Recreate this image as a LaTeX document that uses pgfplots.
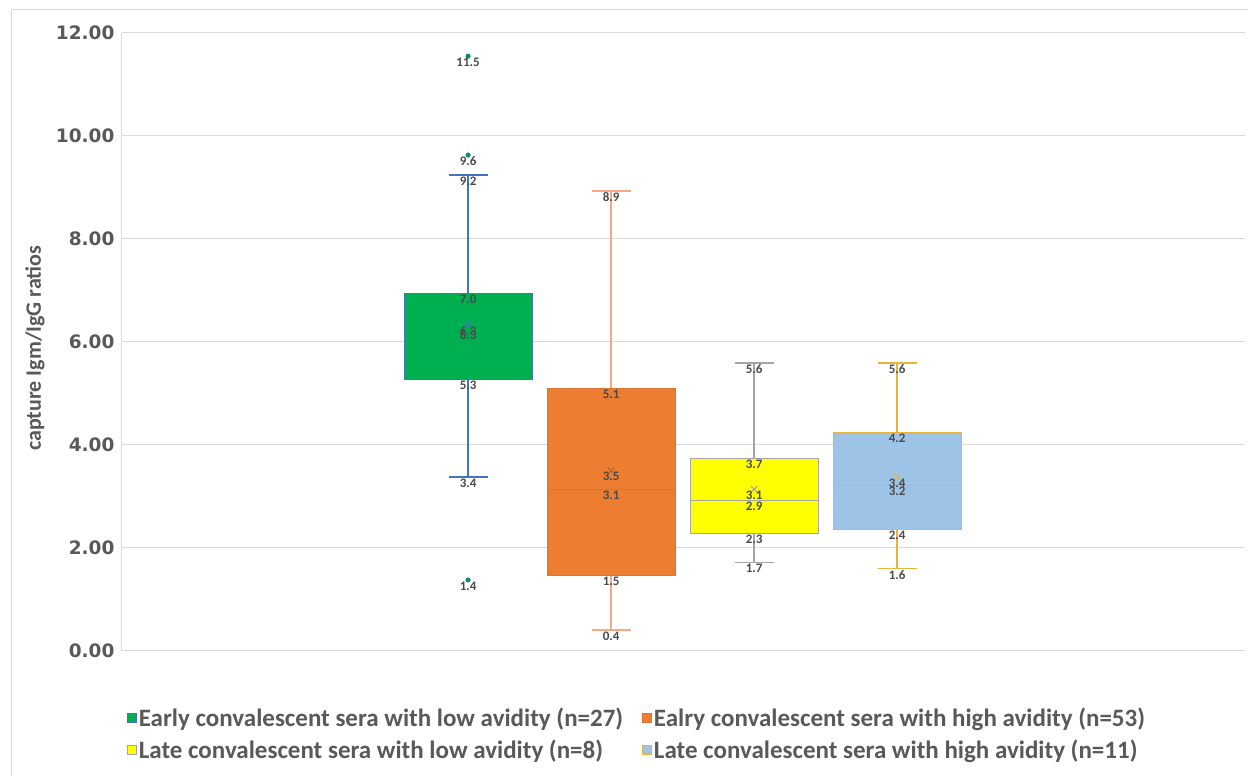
\documentclass[border=0pt]{standalone}
\usepackage{fontspec}
\setmainfont{Carlito}
\newfontfamily\tickfont{DejaVu Sans}
\usepackage{pgfplots}
\usepackage{pgfplotstable}
\pgfplotsset{compat=1.18}
\usepgfplotslibrary{statistics}
\definecolor{cGreen}{HTML}{00B050}
\definecolor{cBlueEdge}{HTML}{4472C4}
\definecolor{cOrange}{HTML}{ED7D31}
\definecolor{cOrangeEdge}{HTML}{DD7330}
\definecolor{cOrangeLight}{HTML}{F2AA85}
\definecolor{cYellow}{HTML}{FFFF00}
\definecolor{cGray}{HTML}{A5A5A5}
\definecolor{cLBlue}{HTML}{9DC3E6}
\definecolor{cGold}{HTML}{E8B43A}
\definecolor{cTeal}{HTML}{17876A}
\definecolor{txt}{HTML}{595959}
\definecolor{lbl}{HTML}{4A4A4A}
\definecolor{grid}{HTML}{D9D9D9}

\pgfplotstableread{
x y label
2.42 11.55 11.5
2.42 9.63 9.6
2.42 9.24 9.2
2.42 6.95 7.0
2.42 6.33 6.3
2.42 6.25 6.3
2.42 5.28 5.3
2.42 3.38 3.4
2.42 1.38 1.4
3.42 8.93 8.9
3.42 5.10 5.1
3.42 3.50 3.5
3.42 3.14 3.1
3.42 1.46 1.5
3.42 0.41 0.4
4.42 5.59 5.6
4.42 3.74 3.7
4.42 3.14 3.1
4.42 2.93 2.9
4.42 2.29 2.3
4.42 1.72 1.7
5.42 5.59 5.6
5.42 4.24 4.2
5.42 3.38 3.4
5.42 3.22 3.2
5.42 2.36 2.4
5.42 1.60 1.6
}\labels

\begin{document}
\begin{tikzpicture}
\useasboundingbox (0,0) rectangle (1248pt,776pt);
\fill[white] (0,0) rectangle (1248pt,776pt);
\draw[grid, line width=1pt] (11pt,0) -- (11pt,766pt) -- (1248pt,766pt);
\begin{axis}[
  at={(122pt,125pt)}, anchor=south west,
  scale only axis, width=1123pt, height=618pt,
  xmin=0, xmax=7.853, ymin=0, ymax=12,
  xtick=\empty,
  ytick={0,2,4,6,8,10,12},
  ymajorgrids, grid style={draw=grid, line width=1pt},
  axis lines=left, axis line style={-},
  x axis line style={draw=none},
  y axis line style={draw=grid, line width=1pt},
  major tick length=0pt,
  boxplot/draw direction=y,
  /pgf/number format/assume math mode=true,
  yticklabel={\pgfmathprintnumber[fixed, fixed zerofill, precision=2]{\tick}},
  yticklabel style={font=\tickfont\bfseries\fontsize{18.5}{21}\selectfont, text=txt, xshift=-4pt},
  ylabel={capture Igm/IgG ratios},
  ylabel style={font=\bfseries\fontsize{22}{26}\selectfont, text=txt, at={(axis description cs:-0.0775,0.49)}, anchor=center},
  legend columns=2,
  legend cell align=left,
  legend style={at={(0.4586,-0.1335)}, anchor=center, draw=none, fill=none,
    font=\bfseries\fontsize{25}{28}\selectfont, text=txt,
    /tikz/every even column/.append style={column sep=16pt},
    row sep=8pt, nodes={inner xsep=2.5pt}},
  legend image code/.code={\draw[#1] (0pt,-4.5pt) rectangle (9pt,4.5pt);},
  clip=false,
]
% boxes
\addplot[forget plot, draw=cBlueEdge, fill=cGreen, line width=1pt,
  boxplot/every whisker/.style={line width=1.3pt},
  boxplot prepared={draw position=2.42, lower whisker=3.38, lower quartile=5.28,
    median=6.25, upper quartile=6.95, upper whisker=9.24,
    box extend=0.895, whisker extend=0.273}] coordinates {};
\addplot[forget plot, draw=cOrangeEdge, fill=cOrange, line width=1pt,
  boxplot/every whisker/.style={draw=cOrangeLight, line width=1.3pt},
  boxplot prepared={draw position=3.42, lower whisker=0.41, lower quartile=1.46,
    median=3.14, upper quartile=5.10, upper whisker=8.93,
    box extend=0.895, whisker extend=0.273}] coordinates {};
\addplot[forget plot, draw=cGray, fill=cYellow, line width=1pt,
  boxplot/every whisker/.style={line width=1.3pt},
  boxplot prepared={draw position=4.42, lower whisker=1.72, lower quartile=2.29,
    median=2.93, upper quartile=3.74, upper whisker=5.59,
    box extend=0.895, whisker extend=0.273}] coordinates {};
\addplot[forget plot, draw=cGold, fill=cLBlue, line width=1pt,
  boxplot/every whisker/.style={line width=1.3pt},
  boxplot prepared={draw position=5.42, lower whisker=1.60, lower quartile=2.36,
    median=3.22, upper quartile=4.24, upper whisker=5.59,
    box extend=0.895, whisker extend=0.273}] coordinates {};
% means
\addplot[forget plot, only marks, mark=x, mark size=4.5pt, draw=cBlueEdge, line width=1pt] coordinates {(2.42,6.33)};
\addplot[forget plot, only marks, mark=x, mark size=4.5pt, draw=cOrangeEdge!85!black, line width=1pt] coordinates {(3.42,3.50)};
\addplot[forget plot, only marks, mark=x, mark size=4.5pt, draw=cGray, line width=1pt] coordinates {(4.42,3.14)};
\addplot[forget plot, only marks, mark=x, mark size=4.5pt, draw=cGold, line width=1pt] coordinates {(5.42,3.38)};
% outliers
\addplot[forget plot, only marks, mark=*, mark size=2.3pt, draw=cTeal, fill=cTeal] coordinates {(2.42,11.55) (2.42,9.63) (2.42,1.38)};
% labels
\addplot[forget plot, only marks, mark=none, nodes near coords, point meta=explicit symbolic,
  nodes near coords style={anchor=north, font=\bfseries\fontsize{13}{15}\selectfont, text=lbl, inner sep=1.5pt}]
  table[x=x, y=y, meta=label] {\labels};
% legend
\addlegendimage{fill=cGreen, draw=cBlueEdge, line width=0.8pt}
\addlegendentry{Early convalescent sera with low avidity (n=27)}
\addlegendimage{fill=cOrange, draw=cOrangeEdge, line width=0.8pt}
\addlegendentry{Ealry convalescent sera with high avidity (n=53)}
\addlegendimage{fill=cYellow, draw=cGray, line width=0.8pt}
\addlegendentry{Late convalescent sera with low avidity (n=8)}
\addlegendimage{fill=cLBlue, draw=cGold, line width=0.8pt}
\addlegendentry{Late convalescent sera with high avidity (n=11)}
\end{axis}
\end{tikzpicture}
\end{document}
